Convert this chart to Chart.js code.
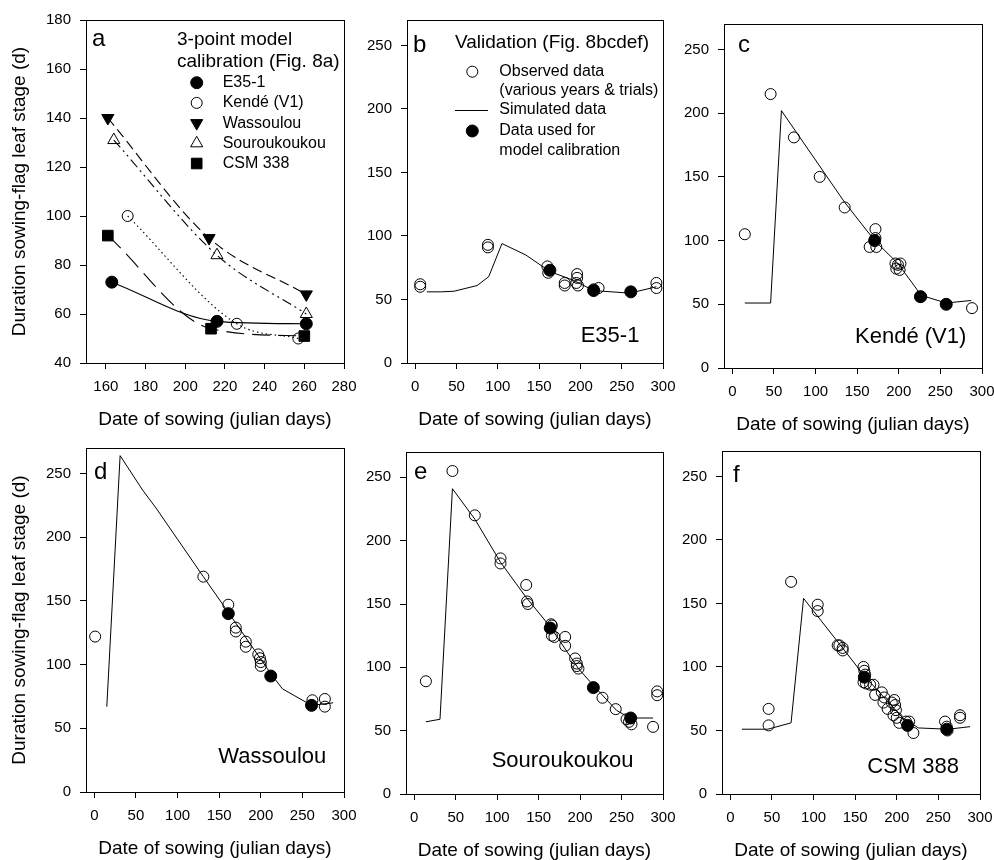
<!DOCTYPE html>
<html>
<head>
<meta charset="utf-8">
<script src="https://cdn.jsdelivr.net/npm/chart.js@4.4.1/dist/chart.umd.min.js"></script>
<style>
  html, body { margin: 0; padding: 0; background: #fff; overflow: hidden; width: 994px; height: 860px; }
  canvas { position: absolute; }
</style>
</head>
<body>
<canvas id="pa"></canvas>
<canvas id="pb"></canvas>
<canvas id="pc"></canvas>
<canvas id="pd"></canvas>
<canvas id="pe"></canvas>
<canvas id="pf"></canvas>
<script>
// ---- data: [julian day, duration (d)] ----
const calE35   = [[163, 73], [216, 57], [261, 56]];
const calKende = [[171, 100], [226, 56], [257, 50]];
const calWass  = [[161, 140], [212, 91], [261, 68]];
const calSouro = [[164, 131], [216, 84], [261, 60]];
const calCsm   = [[161, 92], [213, 54], [260, 51]];

const obsE35 = [[6, 62], [6, 60], [88, 93], [88, 91], [160, 76], [161, 71], [181, 63], [181, 61], [196, 70], [196, 67],
  [195, 63], [197, 61], [216, 58], [222, 59], [292, 63], [292, 59]];
const simE35 = [[14, 56], [31, 56], [47, 56.5], [75, 61], [89, 68], [105, 94], [134, 85], [163, 72], [192, 65], [216, 57],
  [260, 55], [292, 60]];

const obsKende = [[15, 105], [46, 215], [74, 181], [105, 150], [135, 126], [165, 95], [173, 95], [172, 102], [172, 109],
  [196, 82], [199, 81], [197, 78], [201, 77], [202, 82], [227, 56], [288, 47]];
const simKende = [[15, 51], [46, 51], [59, 202], [135, 130], [171, 100], [199, 82], [227, 57], [257, 51], [287, 53]];

const obsWass = [[1, 122], [131, 169], [161, 147], [170, 129], [170, 126], [182, 118], [182, 114], [197, 108], [199, 105],
  [200, 102], [200, 99], [262, 72], [277, 73], [277, 67]];
const simWass = [[15, 67], [31, 264], [58, 237], [74, 223], [131, 169], [161, 141], [213, 92], [226, 81], [261, 68], [287, 70]];

const obsSouro = [[14, 89], [46, 255], [73, 220], [104, 186], [104, 182], [135, 165], [136, 152], [137, 150], [165, 134],
  [166, 133], [166, 125], [169, 124], [182, 124], [182, 117], [194, 107], [196, 103], [198, 99], [196, 101], [227, 76],
  [243, 67], [256, 59], [259, 57], [262, 55], [288, 53], [293, 81], [293, 78]];
const simSouro = [[14, 57], [31, 59], [46, 241], [73, 217], [104, 183], [134, 156], [164, 132], [198, 99], [217, 85],
  [244, 66], [260, 60], [288, 60]];

const obsCsm = [[46, 67], [46, 54], [73, 167], [105, 149], [105, 144], [129, 117], [131, 117], [135, 115], [135, 113],
  [160, 100], [161, 97], [162, 94], [160, 88], [163, 87], [168, 86], [172, 86], [174, 78], [182, 80], [185, 76], [184, 72],
  [189, 67], [194, 72], [197, 74], [198, 70], [199, 66], [196, 62], [200, 60], [203, 56], [211, 57], [215, 57], [220, 48],
  [258, 57], [260, 53], [261, 50], [276, 62], [276, 60]];
const simCsm = [[14, 51], [45, 51], [73, 56], [88, 154], [130, 119], [161, 93], [207, 60], [226, 52], [262, 51], [288, 53]];

// ---- axes and text ----
const ticksAX = [160, 180, 200, 220, 240, 260, 280];
const ticksAY = [40, 60, 80, 100, 120, 140, 160, 180];
const ticksVX = [0, 50, 100, 150, 200, 250, 300];
const ticksVY = [0, 50, 100, 150, 200, 250];
const rangeAX = [150, 280], rangeAY = [40, 180];
const rangeVX = [-10, 300], rangeVY = [0, 270];

const xTitle = 'Date of sowing (julian days)';
const yTitle = 'Duration sowing-flag leaf stage (d)';
const varieties = ['E35-1', 'Kendé (V1)', 'Wassoulou', 'Souroukoukou', 'CSM 338'];
const headA = ['3-point model', 'calibration (Fig. 8a)'];
const headB = ['Validation (Fig. 8bcdef)'];
const legendB = [['Observed data', '(various years & trials)'], ['Simulated data'], ['Data used for', 'model calibration']];
const panelNames = ['E35-1', 'Kendé (V1)', 'Wassoulou', 'Souroukoukou', 'CSM 388'];

const FONT = '"Liberation Sans", Arial, Helvetica, sans-serif';
Chart.defaults.font.family = FONT;
Chart.defaults.color = '#000';

const toXY = pts => pts.map(p => ({ x: p[0], y: p[1] }));

function marker(ctx, m, x, y) {
  ctx.beginPath();
  if (m.style === 'circle') {
    ctx.arc(x, y, m.r, 0, Math.PI * 2);
  } else if (m.style === 'rect') {
    const s = m.r * Math.SQRT1_2;
    ctx.rect(x - s, y - s, 2 * s, 2 * s);
  } else {
    const a0 = (m.rot || 0) * Math.PI / 180;
    for (let k = 0; k < 3; k++) {
      const ang = a0 + k * 2 * Math.PI / 3;
      const px = x + Math.sin(ang) * m.r, py = y - Math.cos(ang) * m.r;
      if (k) ctx.lineTo(px, py); else ctx.moveTo(px, py);
    }
    ctx.closePath();
  }
  if (m.filled) { ctx.fillStyle = '#000'; ctx.fill(); }
  ctx.lineWidth = 1;
  ctx.strokeStyle = '#000';
  ctx.stroke();
}

// frame, panel letter, panel name and legends
const notesPlugin = {
  id: 'notes',
  afterDraw(chart, args, o) {
    const ctx = chart.ctx, a = chart.chartArea;
    ctx.save();
    ctx.strokeStyle = '#000';
    ctx.lineWidth = 1;
    ctx.strokeRect(Math.round(a.left) + 0.5, Math.round(a.top) + 0.5,
      Math.round(a.right) - Math.round(a.left), Math.round(a.bottom) - Math.round(a.top));
    ctx.fillStyle = '#000';
    ctx.textAlign = 'left';
    ctx.textBaseline = 'alphabetic';
    ctx.font = '24px ' + FONT;
    ctx.fillText(o.letter, a.left + o.letterAt[0], a.top + o.letterAt[1]);
    if (o.name) {
      ctx.font = '22px ' + FONT;
      ctx.fillText(o.name, a.left + o.nameAt[0], a.top + o.nameAt[1]);
    }
    ctx.textBaseline = 'middle';
    if (o.head) {
      ctx.font = '19px ' + FONT;
      o.head.forEach((t, i) => ctx.fillText(t, a.left + o.headX, a.top + o.headY + i * 21.7));
    }
    (o.items || []).forEach(it => {
      const y = a.top + it.y;
      if (it.marker === 'line') {
        ctx.beginPath();
        ctx.moveTo(a.left + o.lineFrom, Math.round(y) + 0.5);
        ctx.lineTo(a.left + o.lineTo, Math.round(y) + 0.5);
        ctx.lineWidth = 1;
        ctx.strokeStyle = '#000';
        ctx.stroke();
      } else {
        marker(ctx, it.marker, a.left + o.markX, y);
      }
      ctx.fillStyle = '#000';
      ctx.font = '16px ' + FONT;
      it.text.forEach((t, i) => ctx.fillText(t, a.left + o.textX, y + i * 19.3));
    });
    ctx.restore();
  }
};

function axis(range, ticks, title, horiz, size) {
  return {
    type: 'linear',
    min: range[0],
    max: range[1],
    afterBuildTicks: s => { s.ticks = ticks.map(v => ({ value: v })); },
    afterFit: s => {
      if (horiz) s.height = size; else s.width = size;
      s.paddingLeft = 0; s.paddingRight = 0; s.paddingTop = 0; s.paddingBottom = 0;
    },
    grid: { drawOnChartArea: false, drawTicks: true, tickLength: 6, color: '#000', lineWidth: 1 },
    border: { display: true, color: '#000', width: 1 },
    ticks: { font: { size: 15 }, padding: 9, color: '#000', maxRotation: 0, autoSkip: false },
    title: {
      display: !!title, text: title, color: '#000', font: { size: 19 },
      padding: horiz ? { top: 4, bottom: 4 } : { top: 8, bottom: 4 }
    }
  };
}

function panel(id, box, xr, xt, yr, yt, withYTitle, datasets, notes) {
  const yW = withYTitle ? box.l : 50, padT = 14, padR = 20, xH = 72;
  const cv = document.getElementById(id);
  cv.width = yW + box.r - box.l + padR;
  cv.height = padT + box.b - box.t + xH;
  cv.style.left = (box.l - yW) + 'px';
  cv.style.top = (box.t - padT) + 'px';
  new Chart(cv, {
    type: 'scatter',
    data: { datasets },
    options: {
      responsive: false,
      animation: false,
      devicePixelRatio: 1,
      events: [],
      layout: { padding: { top: padT, right: padR, left: 0, bottom: 0 } },
      plugins: { legend: { display: false }, tooltip: { enabled: false }, notes },
      scales: {
        x: axis(xr, xt, xTitle, true, xH),
        y: axis(yr, yt, withYTitle ? yTitle : '', false, yW)
      }
    },
    plugins: [notesPlugin]
  });
}

const openPt = { style: 'circle', r: 5.5, filled: false };
const fullPt = { style: 'circle', r: 6, filled: true };

function calDs(pts) {
  return { data: toXY(pts), pointStyle: 'circle', pointRadius: 6, pointBackgroundColor: '#000',
    pointBorderColor: '#000', pointBorderWidth: 1, showLine: false };
}
function obsDs(pts) {
  return { data: toXY(pts), pointStyle: 'circle', pointRadius: 5.5, pointBackgroundColor: 'rgba(0,0,0,0)',
    pointBorderColor: '#000', pointBorderWidth: 1, showLine: false };
}
function simDs(pts) {
  return { data: toXY(pts), showLine: true, pointRadius: 0, borderColor: '#000', borderWidth: 1, tension: 0, fill: false };
}

// panel a: calibration curves
const stylesA = [
  { style: 'circle', r: 6, filled: true, dash: [] },
  { style: 'circle', r: 5.5, filled: false, dash: [1.5, 3] },
  { style: 'triangle', rot: 180, r: 7, filled: true, dash: [10, 5] },
  { style: 'triangle', rot: 0, r: 7, filled: false, dash: [10, 4, 2, 4, 2, 4] },
  { style: 'rect', r: 7.5, filled: true, dash: [18, 8] }
];
const calA = [calE35, calKende, calWass, calSouro, calCsm];
const dsA = calA.map((pts, i) => ({
  label: varieties[i],
  data: toXY(pts),
  showLine: true,
  cubicInterpolationMode: 'monotone',
  borderColor: '#000',
  borderWidth: 1.1,
  borderDash: stylesA[i].dash,
  pointStyle: stylesA[i].style,
  pointRotation: stylesA[i].rot || 0,
  pointRadius: stylesA[i].r,
  pointBackgroundColor: stylesA[i].filled ? '#000' : 'rgba(0,0,0,0)',
  pointBorderColor: '#000',
  pointBorderWidth: 1,
  fill: false
}));

panel('pa', { l: 86, t: 20, r: 344, b: 363 }, rangeAX, ticksAX, rangeAY, ticksAY, true, dsA, {
  letter: 'a', letterAt: [6, 26],
  head: headA, headX: 91, headY: 20,
  markX: 110.7, textX: 136.7,
  items: varieties.map((v, i) => ({ y: 62.7 + i * 20.2, marker: stylesA[i], text: [v] }))
});

panel('pb', { l: 407, t: 20, r: 663, b: 363 }, rangeVX, ticksVX, rangeVY, ticksVY, false,
  [calDs(calE35), obsDs(obsE35), simDs(simE35)], {
  letter: 'b', letterAt: [6, 31.7],
  name: panelNames[0], nameAt: [173.7, 321.7],
  head: headB, headX: 48, headY: 22.7,
  markX: 65.3, textX: 92.3, lineFrom: 48, lineTo: 81,
  items: [
    { y: 51.7, marker: openPt, text: legendB[0] },
    { y: 90, marker: 'line', text: legendB[1] },
    { y: 111, marker: fullPt, text: legendB[2] }
  ]
});

panel('pc', { l: 724, t: 24, r: 982, b: 368 }, rangeVX, ticksVX, rangeVY, ticksVY, false,
  [calDs(calKende), obsDs(obsKende), simDs(simKende)], {
  letter: 'c', letterAt: [14, 27.7], name: panelNames[1], nameAt: [131, 319.3]
});

panel('pd', { l: 86, t: 448, r: 344, b: 792 }, rangeVX, ticksVX, rangeVY, ticksVY, true,
  [calDs(calWass), obsDs(obsWass), simDs(simWass)], {
  letter: 'd', letterAt: [8, 31.3], name: panelNames[2], nameAt: [132.3, 315.3]
});

panel('pe', { l: 406, t: 452, r: 663, b: 794 }, rangeVX, ticksVX, rangeVY, ticksVY, false,
  [calDs(calSouro), obsDs(obsSouro), simDs(simSouro)], {
  letter: 'e', letterAt: [8, 27.3], name: panelNames[3], nameAt: [85.7, 314.7]
});

panel('pf', { l: 722, t: 451, r: 980, b: 794 }, rangeVX, ticksVX, rangeVY, ticksVY, false,
  [calDs(calCsm), obsDs(obsCsm), simDs(simCsm)], {
  letter: 'f', letterAt: [11, 30.7], name: panelNames[4], nameAt: [145.3, 321.7]
});
</script>
</body>
</html>
